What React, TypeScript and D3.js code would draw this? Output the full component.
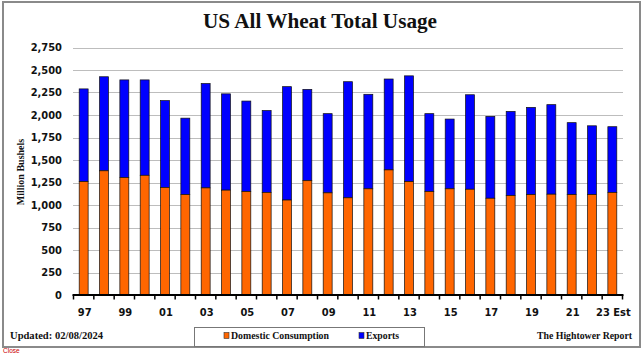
import React from 'react';
import * as d3 from 'd3';

// Marketing years (97 = 1997/98 ... 23 = 2023/24 estimate)
const years = ['97', '98', '99', '00', '01', '02', '03', '04', '05', '06', '07', '08', '09',
  '10', '11', '12', '13', '14', '15', '16', '17', '18', '19', '20', '21', '22', '23'];

// Million bushels
const domestic = [1260, 1380, 1305, 1330, 1195, 1115, 1190, 1165, 1150, 1140, 1055, 1270, 1135,
  1080, 1180, 1390, 1260, 1150, 1180, 1175, 1075, 1105, 1115, 1120, 1115, 1115, 1140];
const exportsVol = [1030, 1045, 1085, 1060, 965, 850, 1160, 1070, 1005, 910, 1260, 1015, 880,
  1290, 1050, 1010, 1175, 865, 775, 1050, 910, 935, 970, 995, 800, 765, 730];

const xLabels = ['97', '99', '01', '03', '05', '07', '09', '11', '13', '15', '17', '19', '21', '23 Est'];
const yTicks = [0, 250, 500, 750, 1000, 1250, 1500, 1750, 2000, 2250, 2500, 2750];

const W = 644;
const H = 353;
const ORANGE = '#ff6600';
const BLUE = '#0000ff';
const sansBold = '"DejaVu Sans Condensed", "DejaVu Sans", sans-serif';
const serif = '"Liberation Serif", "DejaVu Serif", serif';

export default function App() {
  const x = d3.scaleBand<string>()
    .domain(years)
    .range([73.5, 622.5])
    .paddingInner(0.56)
    .paddingOuter(0.28);

  const y = d3.scaleLinear()
    .domain([0, 2750])
    .range([295, 47.5]);

  const step = x.step();
  const boundaries = d3.range(years.length + 1).map(i => 73.5 + i * step);
  const fmt = d3.format(',');

  return (
    <svg width={W} height={H} style={{ position: 'absolute', left: 0, top: 0, background: '#fff' }}>
      {/* frame */}
      <rect x={3} y={2} width={637} height={345} fill="#fff" stroke="#8a8a8a" strokeWidth={2} />

      {/* title */}
      <text x={320} y={28} textAnchor="middle" fontFamily={serif} fontWeight="bold" fontSize={21}
        textLength={234} lengthAdjust="spacingAndGlyphs" fill="#111">
        US All Wheat Total Usage
      </text>

      {/* gridlines + y labels */}
      {yTicks.map(t => (
        <g key={t}>
          {t > 0 && (
            <line x1={73} x2={623} y1={Math.round(y(t)) + 0.5} y2={Math.round(y(t)) + 0.5}
              stroke="#bdbdbd" strokeWidth={1} />
          )}
          <text x={62} y={y(t)} dy="0.36em" textAnchor="end" fontFamily={sansBold}
            fontWeight="bold" fontSize={11} fill="#111">
            {fmt(t)}
          </text>
        </g>
      ))}

      {/* y axis title */}
      <text transform="translate(24,172) rotate(-90)" textAnchor="middle" fontFamily={serif}
        fontWeight="bold" fontSize={10} fill="#111">
        Million Bushels
      </text>

      {/* stacked bars */}
      {years.map((yr, i) => {
        const bx = x(yr) as number;
        const bw = x.bandwidth();
        const d = domestic[i];
        const e = exportsVol[i];
        return (
          <g key={yr}>
            <rect x={bx} y={y(d + e)} width={bw} height={y(d) - y(d + e)}
              fill={BLUE} stroke="#111" strokeWidth={0.7} />
            <rect x={bx} y={y(d)} width={bw} height={y(0) - y(d)}
              fill={ORANGE} stroke="#111" strokeWidth={0.7} />
          </g>
        );
      })}

      {/* x axis */}
      <line x1={72.5} x2={623.5} y1={295} y2={295} stroke="#000" strokeWidth={2} />
      {boundaries.map((b, i) => (
        <line key={i} x1={b} x2={b} y1={295} y2={299.5} stroke="#000" strokeWidth={1.5} />
      ))}
      {xLabels.map((lab, i) => {
        const idx = i * 2;
        const cx = (x(years[idx]) as number) + x.bandwidth() / 2;
        return (
          <text key={lab} x={cx + 1} y={312} dy="0.36em" textAnchor="middle" fontFamily={sansBold}
            fontWeight="bold" fontSize={11} fill="#111">
            {lab}
          </text>
        );
      })}

      {/* footer */}
      <text x={10} y={339} fontFamily={serif} fontWeight="bold" fontSize={10.5} fill="#111"
        textLength={93} lengthAdjust="spacingAndGlyphs">
        Updated: 02/08/2024
      </text>
      <text x={632} y={339} textAnchor="end" fontFamily={serif} fontWeight="bold" fontSize={10.5}
        fill="#111" textLength={95} lengthAdjust="spacingAndGlyphs">
        The Hightower Report
      </text>

      {/* legend */}
      <rect x={194.5} y={327.5} width={230} height={19} fill="#fff" stroke="#777" strokeWidth={1} />
      <rect x={224} y={332.5} width={5} height={6} fill={ORANGE} stroke="#333" strokeWidth={0.6} />
      <text x={231} y={339} fontFamily={serif} fontWeight="bold" fontSize={10.5} fill="#111"
        textLength={98} lengthAdjust="spacingAndGlyphs">
        Domestic Consumption
      </text>
      <rect x={359} y={332.5} width={5} height={6} fill={BLUE} stroke="#333" strokeWidth={0.6} />
      <text x={366} y={339} fontFamily={serif} fontWeight="bold" fontSize={10.5} fill="#111"
        textLength={33} lengthAdjust="spacingAndGlyphs">
        Exports
      </text>

      {/* stray page link below the chart */}
      <text x={3} y={353} fontFamily='"Liberation Sans", Arial, sans-serif' fontSize={6.5} fill="#cc0000">
        Close
      </text>
    </svg>
  );
}
